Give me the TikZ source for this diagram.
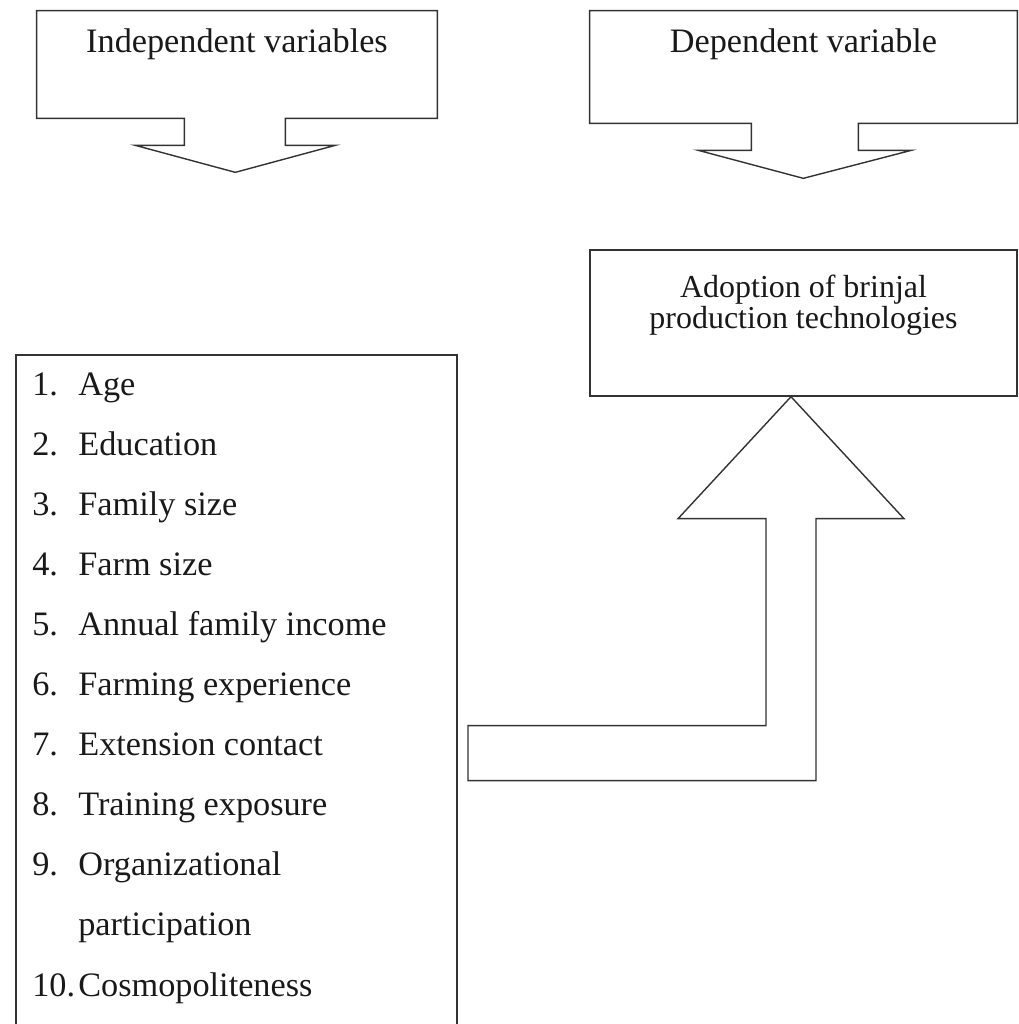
\documentclass[tikz,border=0pt]{standalone}
\usepackage{fontspec}
\setmainfont{Liberation Serif}
\usetikzlibrary{positioning, calc}

\begin{document}
\begin{tikzpicture}[x=0.02cm, y=-0.02cm, every node/.style={font=\fontsize{19.5}{17}\selectfont, text=black!90}]

% Define styles
\tikzstyle{outline} = [draw=black!80, line width=0.8pt, line join=miter]
\tikzstyle{block} = [rectangle, inner sep=0pt]
\tikzstyle{boxtext} = [anchor=base, inner sep=0pt]
\tikzstyle{itemtext} = [anchor=base west, inner sep=0pt]

\useasboundingbox (0,0) rectangle (1018,1024);

% Boxes
\node (indep) [block, minimum width=8cm, minimum height=2.14cm] at (237,64.5) {};
\node (dep) [block, minimum width=8.54cm, minimum height=2.24cm] at (803.5,67) {};
\node (adopt) [block, outline, minimum width=8.54cm, minimum height=2.92cm] at (803.5,323) {};

% Titles
\node (indeptitle) [boxtext] at (237,53) {Independent variables};
\node (deptitle) [boxtext] at (803.5,53) {Dependent variable};
\node (adopttitle) [boxtext, align=center, font=\fontsize{18.2}{17.1}\selectfont] at (803.5,328) {Adoption of brinjal\\production technologies};

% Callout arrows
\draw [outline] (indep.south west) -- (indep.north west) -- (indep.north east) -- (indep.south east)
  -- ++(-152,0) -- ++(0,27) -- ++(50,0) -- ++(-100,27) -- ++(-100,-27) -- ++(49,0) -- ++(0,-27) -- cycle;
\draw [outline] (dep.south west) -- (dep.north west) -- (dep.north east) -- (dep.south east)
  -- ++(-159,0) -- ++(0,27) -- ++(53,0) -- ++(-108,28) -- ++(-105,-28) -- ++(53,0) -- ++(0,-27) -- cycle;

% Bent arrow
\coordinate (tip) at ($(adopt.south)+(-12.5,0)$);
\draw [outline] (tip) -- ++(113,122) -- ++(-88,0) -- ++(0,262) -- ++(-348,0) -- ++(0,-55)
  -- ++(298,0) -- ++(0,-207) -- ++(-88,0) -- cycle;

% List of variables
\draw [outline] (16,1024) -- (16,355) -- (457,355) -- (457,1024);
\foreach \num/\txt [count=\i] in {1./Age, 2./Education, 3./Family size, 4./Farm size,
  5./Annual family income, 6./Farming experience, 7./Extension contact, 8./Training exposure,
  9./Organizational, /participation, 10./Cosmopoliteness} {
  \node (num\i) [itemtext] at (32,{395+60.1*(\i-1)}) {\num};
  \node (item\i) [itemtext] at (78,{395+60.1*(\i-1)}) {\txt};
}

\end{tikzpicture}
\end{document}
